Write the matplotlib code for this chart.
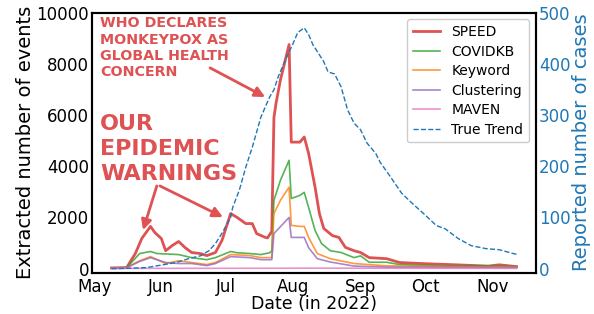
import matplotlib
matplotlib.use("Agg")
import matplotlib.pyplot as plt
import matplotlib.dates as mdates
import pandas as pd

# ---- data ----
speed_dates = ["2022-05-09", "2022-05-16", "2022-05-20", "2022-05-23", "2022-05-27", "2022-05-29",
               "2022-06-01", "2022-06-03", "2022-06-06", "2022-06-09", "2022-06-12", "2022-06-15",
               "2022-06-19", "2022-06-22", "2022-06-26", "2022-06-29", "2022-07-03", "2022-07-06",
               "2022-07-10", "2022-07-13", "2022-07-15", "2022-07-19", "2022-07-20", "2022-07-22",
               "2022-07-23", "2022-07-24", "2022-07-26", "2022-07-30", "2022-07-31", "2022-08-04",
               "2022-08-06", "2022-08-08", "2022-08-11", "2022-08-13", "2022-08-15", "2022-08-19",
               "2022-08-22", "2022-08-25", "2022-08-29", "2022-09-01", "2022-09-05", "2022-09-13",
               "2022-09-19", "2022-09-29", "2022-10-15", "2022-10-30", "2022-11-04", "2022-11-12"]
speed = [30, 40, 590, 1180, 1650, 1410,
         1180, 700, 900, 1060, 820, 630,
         590, 510, 630, 1100, 2150, 2000,
         1760, 1760, 1370, 1220, 1200, 1450,
         5900, 6470, 7370, 8750, 4940, 4940,
         5140, 4500, 3180, 2150, 1570, 1290,
         1220, 830, 700, 630, 430, 390,
         240, 200, 150, 100, 150, 80]

covidkb_dates = ["2022-05-09", "2022-05-16", "2022-05-22", "2022-05-27", "2022-05-30", "2022-06-09",
                 "2022-06-15", "2022-06-22", "2022-06-26", "2022-07-03", "2022-07-06", "2022-07-12",
                 "2022-07-17", "2022-07-21", "2022-07-22", "2022-07-23", "2022-07-26", "2022-07-30",
                 "2022-07-31", "2022-08-04", "2022-08-06", "2022-08-08", "2022-08-11", "2022-08-14",
                 "2022-08-18", "2022-08-23", "2022-08-29", "2022-09-01", "2022-09-05", "2022-09-13",
                 "2022-09-19", "2022-10-10", "2022-10-30", "2022-11-12"]
covidkb = [20, 40, 590, 670, 590, 550,
           430, 350, 430, 670, 620, 590,
           550, 620, 700, 2670, 3450, 4230,
           2740, 2860, 2980, 2390, 1490, 980,
           700, 630, 430, 500, 250, 250,
           160, 100, 110, 80]

keyword_dates = ["2022-05-09", "2022-05-16", "2022-05-22", "2022-05-27", "2022-06-03", "2022-06-09",
                 "2022-06-15", "2022-06-22", "2022-06-26", "2022-07-03", "2022-07-12", "2022-07-17",
                 "2022-07-22", "2022-07-23", "2022-07-26", "2022-07-30", "2022-07-31", "2022-08-04",
                 "2022-08-06", "2022-08-08", "2022-08-12", "2022-08-18", "2022-08-29", "2022-09-13",
                 "2022-10-10", "2022-11-12"]
keyword = [20, 40, 310, 470, 200, 310,
           240, 160, 240, 550, 510, 430,
           430, 2150, 2670, 3180, 1690, 1650,
           1650, 1220, 590, 390, 200, 110,
           80, 60]

clustering_dates = ["2022-05-09", "2022-05-16", "2022-05-22", "2022-05-27", "2022-06-03", "2022-06-09",
                    "2022-06-15", "2022-06-22", "2022-06-26", "2022-07-03", "2022-07-12", "2022-07-17",
                    "2022-07-22", "2022-07-23", "2022-07-30", "2022-07-31", "2022-08-06", "2022-08-08",
                    "2022-08-12", "2022-08-18", "2022-08-29", "2022-09-13", "2022-11-12"]
clustering = [20, 40, 280, 430, 240, 200,
              200, 120, 200, 470, 430, 350,
              350, 1370, 2000, 1220, 1220, 820,
              390, 260, 100, 60, 40]

maven_dates = ["2022-05-09", "2022-07-22", "2022-08-06", "2022-11-12"]
maven = [10, 15, 20, 10]

trend_dates = ["2022-05-09", "2022-05-19", "2022-05-25", "2022-06-01", "2022-06-08", "2022-06-14",
               "2022-06-19", "2022-06-23", "2022-06-26", "2022-06-29", "2022-07-03", "2022-07-04",
               "2022-07-07", "2022-07-10", "2022-07-13", "2022-07-17", "2022-07-21", "2022-07-23",
               "2022-07-25", "2022-07-29", "2022-08-01", "2022-08-03", "2022-08-06", "2022-08-08",
               "2022-08-10", "2022-08-12", "2022-08-15", "2022-08-17", "2022-08-20", "2022-08-23",
               "2022-08-26", "2022-08-29", "2022-09-01", "2022-09-04", "2022-09-08", "2022-09-10",
               "2022-09-15", "2022-09-20", "2022-09-25", "2022-10-01", "2022-10-06", "2022-10-10",
               "2022-10-16", "2022-10-22", "2022-10-29", "2022-11-04", "2022-11-10", "2022-11-12"]
trend = [0, 1, 2, 7, 12, 20,
         25, 35, 49, 69, 100, 120,
         153, 198, 237, 296, 335, 349,
         375, 414, 441, 461, 470, 457,
         437, 424, 404, 384, 380, 355,
         310, 284, 271, 245, 225, 208,
         178, 147, 127, 104, 84, 78,
         59, 45, 39, 37, 30, 28]

series_names = ["SPEED", "COVIDKB", "Keyword", "Clustering", "MAVEN"]
trend_name = "True Trend"
event_ylabel = "Extracted number of events"
case_ylabel = "Reported number of cases"
xlabel = "Date (in 2022)"
who_text = "WHO DECLARES\nMONKEYPOX AS\nGLOBAL HEALTH\nCONCERN"
warn_text = "OUR\nEPIDEMIC\nWARNINGS"

# ---- styling ----
colors = ["tab:red", "tab:green", "tab:orange", "tab:purple", "tab:pink"]
widths = [2.0, 1.2, 1.2, 1.2, 1.2]
ann_color = "#de5253"

fig = plt.figure(figsize=(5.94, 3.14), dpi=100)
ax = fig.add_axes([92/594, (314-272.5)/314, (536-92)/594, 260/314])
ax2 = ax.twinx()

all_dates = [speed_dates, covidkb_dates, keyword_dates, clustering_dates, maven_dates]
all_vals = [speed, covidkb, keyword, clustering, maven]
handles = []
for name, d, v, c, w in zip(series_names, all_dates, all_vals, colors, widths):
    h, = ax.plot(pd.to_datetime(d), v, color=c, lw=w, alpha=0.8, label=name)
    handles.append(h)

ht, = ax2.plot(pd.to_datetime(trend_dates), trend, color="tab:blue", lw=1.0, ls="--", label=trend_name)
handles.append(ht)

ax.set_xlim(pd.Timestamp("2022-04-30"), pd.Timestamp("2022-11-21"))
ax.set_ylim(-150, 10000)
ax2.set_ylim(-7.5, 500)
ax.set_yticks([0, 2000, 4000, 6000, 8000, 10000])
ax2.set_yticks([0, 100, 200, 300, 400, 500])

ax.xaxis.set_major_locator(mdates.MonthLocator())
ax.xaxis.set_major_formatter(mdates.DateFormatter("%b"))

ax.tick_params(axis="y", length=0, labelsize=12, pad=2)
ax.tick_params(axis="x", length=0, labelsize=12, pad=4)
ax2.tick_params(axis="y", length=0, labelsize=12, labelcolor="tab:blue", pad=2)

for a in (ax, ax2):
    for s in a.spines.values():
        s.set_linewidth(1.5)
        s.set_color("black")

ax.set_ylabel(event_ylabel, fontsize=14, labelpad=1)
ax2.set_ylabel(case_ylabel, fontsize=14, color="tab:blue", labelpad=1)
ax.set_xlabel(xlabel, fontsize=12.5, labelpad=-1)

leg = ax2.legend(handles=handles, loc="upper right", fontsize=10, framealpha=1,
                 borderaxespad=0.5, handlelength=2.0, labelspacing=0.4)

ax.text(0.018, 0.985, who_text, transform=ax.transAxes, ha="left", va="top",
        fontsize=10.3, fontweight="bold", color=ann_color, linespacing=1.2)
ax.text(0.018, 0.61, warn_text, transform=ax.transAxes, ha="left", va="top",
        fontsize=16, fontweight="bold", color=ann_color, linespacing=1.32)

arrow_kw = dict(arrowstyle="-|>", color=ann_color, lw=2, mutation_scale=15, shrinkA=0, shrinkB=0)
ax.annotate("", xy=(0.390, 0.675), xytext=(0.266, 0.787), xycoords="axes fraction",
            textcoords="axes fraction", arrowprops=arrow_kw)
ax.annotate("", xy=(0.115, 0.163), xytext=(0.146, 0.333), xycoords="axes fraction",
            textcoords="axes fraction", arrowprops=arrow_kw)
ax.annotate("", xy=(0.295, 0.213), xytext=(0.153, 0.333), xycoords="axes fraction",
            textcoords="axes fraction", arrowprops=arrow_kw)

fig.savefig("out.png", dpi=100)
